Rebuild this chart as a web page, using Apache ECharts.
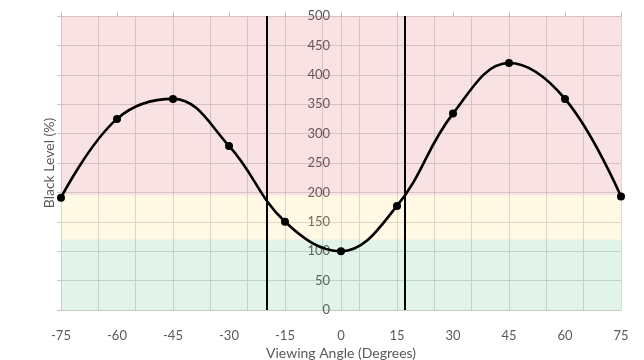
<!DOCTYPE html>
<html>
<head>
<meta charset="utf-8">
<script src="https://cdn.jsdelivr.net/npm/echarts@6/dist/echarts.min.js"></script>
<style>html,body{margin:0;padding:0;background:#fff}#c{width:644px;height:360px}</style>
</head>
<body>
<div id="c"></div>
<script>
var angles = [-75, -60, -45, -30, -15, 0, 15, 30, 45, 60, 75];
var blackLevel = [191, 325, 359, 279, 150, 100, 177, 334, 420, 359, 193];
var limitLines = [-20, 17];
var bandGood = [0, 120];
var bandOk = [120, 195];
var bandBad = [195, 500];
var xTitle = 'Viewing Angle (Degrees)';
var yTitle = 'Black Level (%)';

var font = 'Lato';
var txt = '#595959';
var grid = '#d9d9d9';

var chart = echarts.init(document.getElementById('c'), null, {renderer: 'canvas'});
chart.setOption({
  animation: false,
  backgroundColor: '#fff',
  textStyle: {fontFamily: font},
  grid: {left: 61, right: 23, top: 16, bottom: 50, containLabel: false, outerBoundsMode: 'none'},
  xAxis: [
    {
      type: 'value', position: 'bottom', min: -75, max: 75, interval: 15,
      name: xTitle, nameLocation: 'middle', nameGap: 31,
      nameTextStyle: {color: txt, fontSize: 14, fontFamily: font},
      axisLine: {show: true, onZero: false, lineStyle: {color: '#c8c8c8', width: 1}},
      axisTick: {show: false},
      splitLine: {show: false},
      axisLabel: {color: txt, fontSize: 13, margin: 19, fontFamily: font}
    },
    {
      type: 'value', position: 'top', min: -75, max: 75, interval: 15,
      axisLine: {show: false, onZero: false},
      axisTick: {show: true, length: 4, lineStyle: {color: '#c8c8c8'}},
      axisLabel: {show: false},
      splitLine: {show: false}
    },
    {
      type: 'value', position: 'top', min: -75, max: 75, interval: 10,
      axisLine: {show: false, onZero: false},
      axisTick: {show: false},
      axisLabel: {show: false},
      splitLine: {show: true, lineStyle: {color: grid, width: 1}}
    }
  ],
  yAxis: [
    {
      type: 'value', min: 0, max: 500, interval: 50, position: 'left', offset: -280,
      axisLine: {show: true, onZero: false, lineStyle: {color: grid, width: 1}},
      axisTick: {show: false},
      axisLabel: {color: txt, fontSize: 13, margin: 11, fontFamily: font},
      splitLine: {show: true, lineStyle: {color: grid, width: 1}}
    },
    {
      type: 'value', min: 0, max: 500, interval: 50, position: 'left',
      name: yTitle, nameLocation: 'middle', nameGap: 5,
      nameTextStyle: {color: txt, fontSize: 14, fontFamily: font},
      axisLine: {show: false, onZero: false},
      axisTick: {show: true, length: 4, lineStyle: {color: '#c8c8c8'}},
      axisLabel: {show: false},
      splitLine: {show: false}
    }
  ],
  series: [
    {
      type: 'line',
      xAxisIndex: 0, yAxisIndex: 0,
      data: angles.map(function (a, i) { return [a, blackLevel[i]]; }),
      smooth: 0.4,
      symbol: 'circle', symbolSize: 8,
      lineStyle: {color: '#000', width: 2.6},
      itemStyle: {color: '#000'},
      z: 5,
      markArea: {
        silent: true,
        data: [
          [{yAxis: bandGood[0], itemStyle: {color: 'rgba(62,175,108,0.15)'}}, {yAxis: bandGood[1]}],
          [{yAxis: bandOk[0], itemStyle: {color: 'rgba(255,208,82,0.15)'}}, {yAxis: bandOk[1]}],
          [{yAxis: bandBad[0], itemStyle: {color: 'rgba(208,62,75,0.15)'}}, {yAxis: bandBad[1]}]
        ]
      },
      markLine: {
        silent: true,
        symbol: ['none', 'none'],
        label: {show: false},
        lineStyle: {color: '#000', width: 2, type: 'solid'},
        data: limitLines.map(function (v) { return {xAxis: v}; })
      }
    }
  ]
});
</script>
</body>
</html>
